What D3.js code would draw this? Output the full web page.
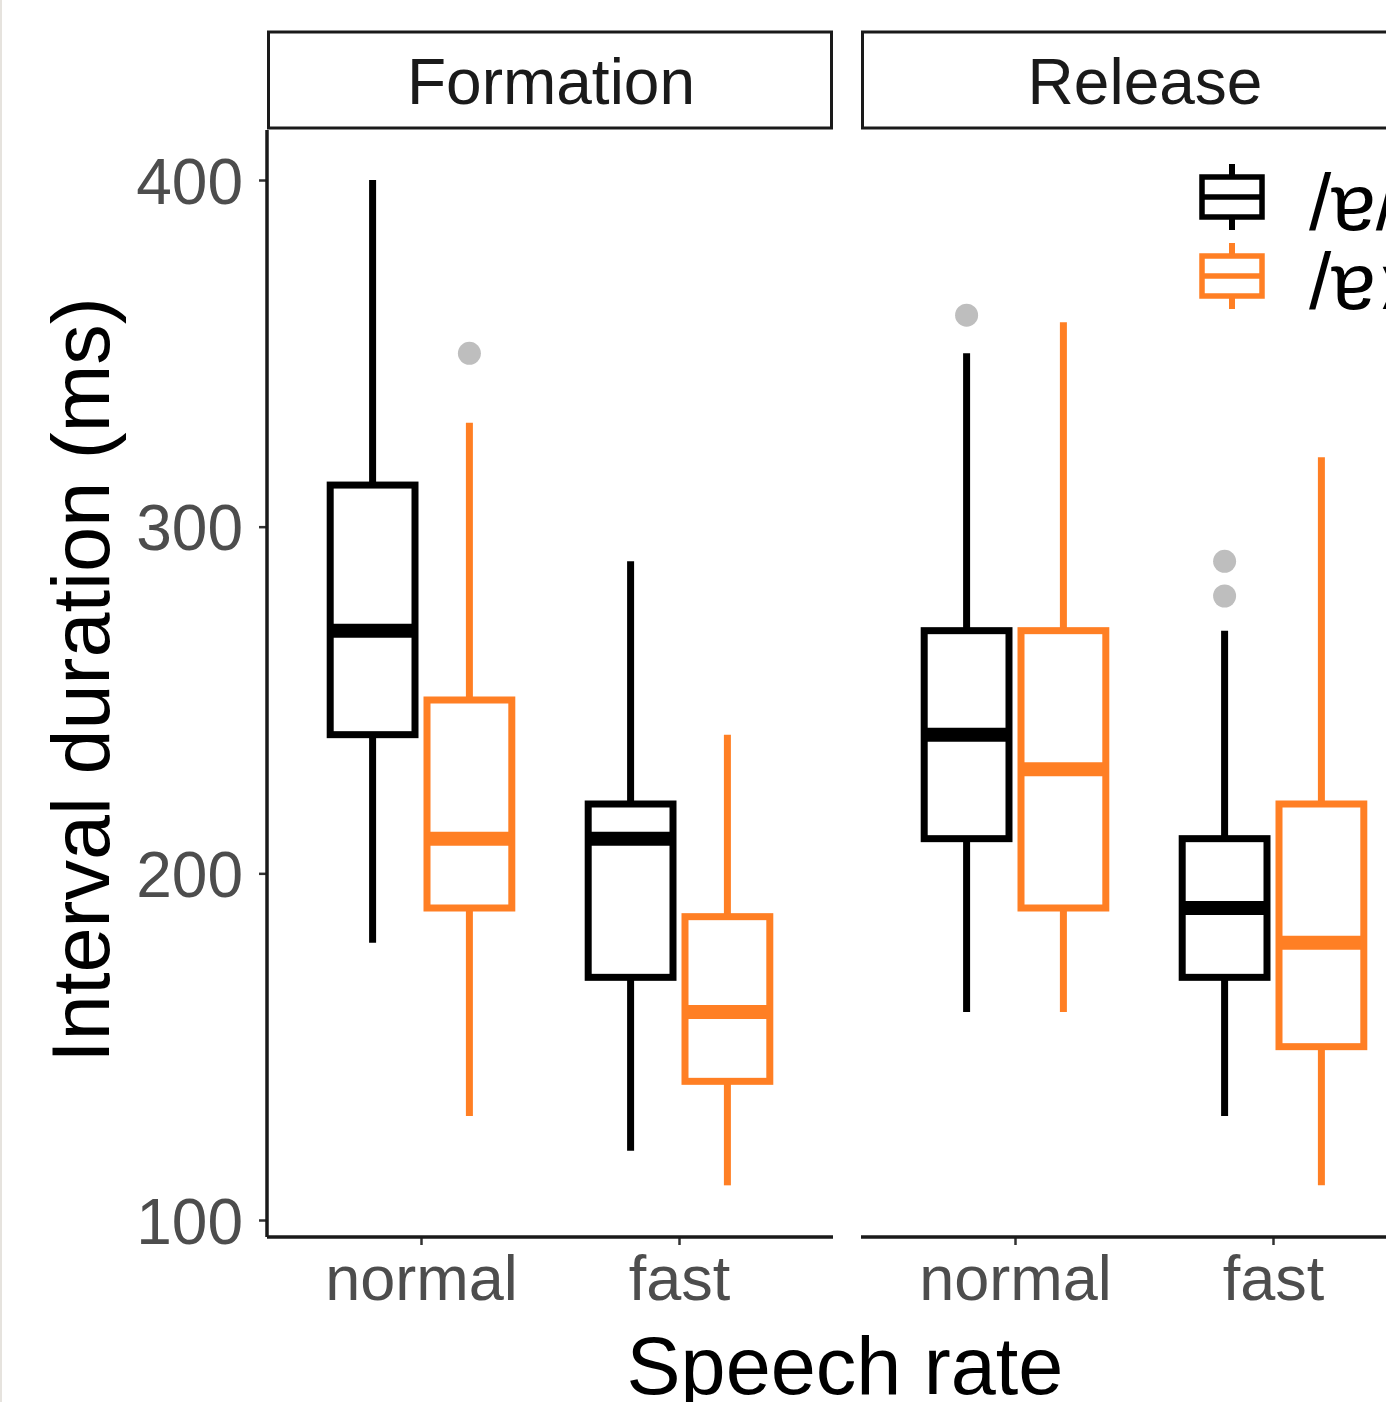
<!DOCTYPE html>
<meta charset="utf-8">
<style>
body { margin: 0; background: #fff; }
text { font-family: "Liberation Sans", Arial, sans-serif; }
</style>
<svg width="1386" height="1402"></svg>
<script src="https://cdn.jsdelivr.net/npm/d3@7"></script>
<script>

var panels = ["Formation", "Release"];
var rates = ["normal", "fast"];
var groups = ["/ɐ/", "/ɐː/"];
var colors = ["#000000", "#ff7f24"];
var yTicks = [100, 200, 300, 400];

// [panel, rate, group, lowerWhisker, q1, median, q3, upperWhisker]
var boxStats = [
  ["Formation", "normal", "/ɐ/",  180, 240, 270, 312, 400],
  ["Formation", "normal", "/ɐː/", 130, 190, 210, 250, 330],
  ["Formation", "fast",   "/ɐ/",  120, 170, 210, 220, 290],
  ["Formation", "fast",   "/ɐː/", 110, 140, 160, 187.5, 240],
  ["Release",   "normal", "/ɐ/",  160, 210, 240, 270, 350],
  ["Release",   "normal", "/ɐː/", 160, 190, 230, 270, 359],
  ["Release",   "fast",   "/ɐ/",  130, 170, 190, 210, 270],
  ["Release",   "fast",   "/ɐː/", 110, 150, 180, 220, 320]
];

// [panel, rate, group, value]
var outliers = [
  ["Formation", "normal", "/ɐː/", 350],
  ["Release",   "normal", "/ɐ/",  361],
  ["Release",   "fast",   "/ɐ/",  290],
  ["Release",   "fast",   "/ɐ/",  280]
];

var svg = d3.select("svg");

svg.append("rect").attr("x", 0).attr("y", 0).attr("width", 2).attr("height", 1402).attr("fill", "#e6e3de");

var plotTop = 130, plotBottom = 1237, panelW = 566;
var panelX = d3.scaleOrdinal().domain(panels).range([267, 861]);

var y = d3.scaleLinear().domain([100, 400]).range([1220, 180]);

var x = d3.scalePoint().domain(rates).range([154, 412]);
var dodge = d3.scaleBand().domain(groups).range([-96.8, 96.8]);
var boxW = dodge.bandwidth();
var inset = 6;

var color = d3.scaleOrdinal().domain(groups).range(colors);

panels.forEach(function(p) {
  var g = svg.append("g").attr("transform", "translate(" + panelX(p) + ",0)");

  // strip
  g.append("rect")
      .attr("x", 1.5).attr("y", 32)
      .attr("width", panelW - 3).attr("height", 96)
      .attr("fill", "#fff").attr("stroke", "#1a1a1a").attr("stroke-width", 3);
  g.append("text")
      .attr("x", panelW / 2 + 1).attr("y", 104)
      .attr("text-anchor", "middle")
      .attr("font-size", 64)
      .attr("fill", "#1a1a1a")
      .text(p);

  // bottom axis
  var xa = g.append("g")
      .attr("transform", "translate(0," + plotBottom + ")")
      .call(d3.axisBottom(x).tickSize(8).tickPadding(10));
  xa.select(".domain").remove();
  xa.selectAll(".tick line").attr("stroke", "#333").attr("stroke-width", 2.5);
  xa.selectAll(".tick text").attr("font-size", 63).attr("fill", "#4d4d4d").attr("dy", "0.71em");
  g.append("line").attr("x1", 0).attr("x2", panelW).attr("y1", plotBottom).attr("y2", plotBottom)
      .attr("stroke", "#1a1a1a").attr("stroke-width", 3.5);

  var data = boxStats.filter(function(d) { return d[0] === p; });

  var b = g.selectAll(".box").data(data).enter().append("g")
      .attr("transform", function(d) { return "translate(" + (x(d[1]) + dodge(d[2]) + boxW / 2) + ",0)"; });

  b.append("line")
      .attr("y1", function(d) { return y(d[3]); })
      .attr("y2", function(d) { return y(d[4]); })
      .attr("stroke", function(d) { return color(d[2]); })
      .attr("stroke-width", 7);
  b.append("line")
      .attr("y1", function(d) { return y(d[6]); })
      .attr("y2", function(d) { return y(d[7]); })
      .attr("stroke", function(d) { return color(d[2]); })
      .attr("stroke-width", 7);
  b.append("rect")
      .attr("x", -boxW / 2 + inset).attr("width", boxW - 2 * inset)
      .attr("y", function(d) { return y(d[6]); })
      .attr("height", function(d) { return y(d[4]) - y(d[6]); })
      .attr("fill", "#fff")
      .attr("stroke", function(d) { return color(d[2]); })
      .attr("stroke-width", 7);
  b.append("line")
      .attr("x1", -boxW / 2 + inset).attr("x2", boxW / 2 - inset)
      .attr("y1", function(d) { return y(d[5]); })
      .attr("y2", function(d) { return y(d[5]); })
      .attr("stroke", function(d) { return color(d[2]); })
      .attr("stroke-width", 14);

  g.selectAll(".out").data(outliers.filter(function(d) { return d[0] === p; }))
    .enter().append("circle")
      .attr("cx", function(d) { return x(d[1]) + dodge(d[2]) + boxW / 2; })
      .attr("cy", function(d) { return y(d[3]); })
      .attr("r", 11.5)
      .attr("fill", "#bebebe");
});

// y axis
var ya = svg.append("g")
    .attr("transform", "translate(267,0)")
    .call(d3.axisLeft(y).tickValues(yTicks).tickSize(8).tickPadding(16));
ya.select(".domain").remove();
ya.selectAll(".tick line").attr("stroke", "#333").attr("stroke-width", 2.5);
ya.selectAll(".tick text").attr("font-size", 64).attr("fill", "#4d4d4d").attr("dy", "0.36em");
svg.append("line").attr("x1", 267).attr("x2", 267).attr("y1", plotTop).attr("y2", plotBottom)
    .attr("stroke", "#1a1a1a").attr("stroke-width", 3.5);

// titles
svg.append("text")
    .attr("x", 845).attr("y", 1394)
    .attr("text-anchor", "middle")
    .attr("font-size", 81)
    .attr("fill", "#000")
    .text("Speech rate");
svg.append("text")
    .attr("transform", "translate(109,680) rotate(-90)")
    .attr("text-anchor", "middle")
    .attr("font-size", 81)
    .attr("fill", "#000")
    .text("Interval duration (ms)");

// legend
var legendY = [197, 276];
groups.forEach(function(gname, i) {
  var lg = svg.append("g").attr("transform", "translate(1232," + legendY[i] + ")");
  var c = color(gname);
  lg.append("line").attr("y1", -33).attr("y2", 33).attr("stroke", c).attr("stroke-width", 6);
  lg.append("rect").attr("x", -30).attr("y", -20).attr("width", 60).attr("height", 40)
      .attr("fill", "#fff").attr("stroke", c).attr("stroke-width", 5.5);
  lg.append("line").attr("x1", -30).attr("x2", 30).attr("stroke", c).attr("stroke-width", 5.5);
  svg.append("text")
      .attr("x", 1309).attr("y", legendY[i] + 33)
      .attr("font-size", 80)
      .attr("fill", "#000")
      .text(gname);
});

</script>
